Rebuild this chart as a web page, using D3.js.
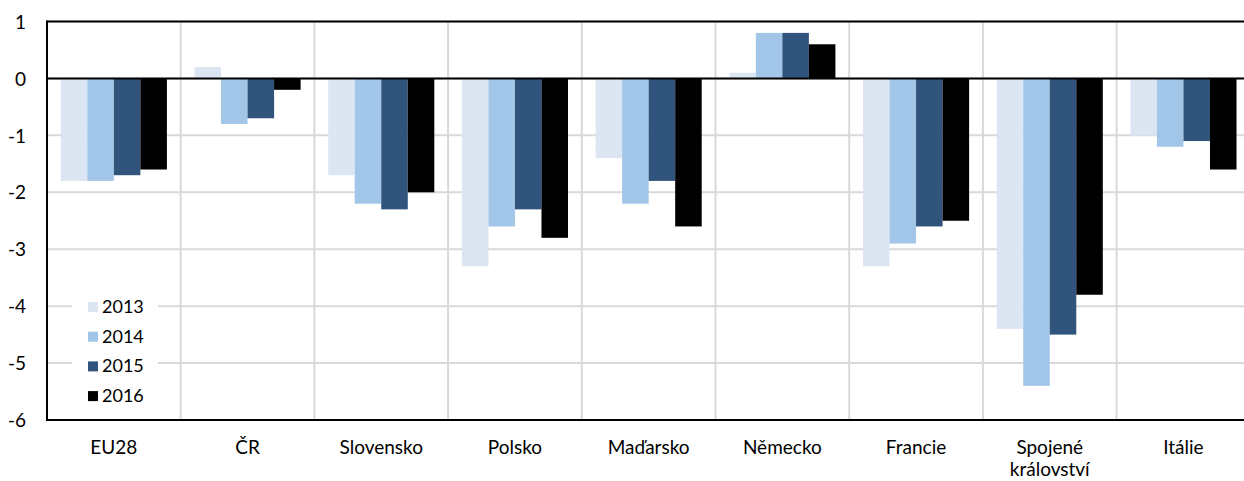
<!DOCTYPE html>
<html>
<head>
<meta charset="utf-8">
<script src="https://cdn.jsdelivr.net/npm/d3@7"></script>
<style>
  html, body { margin: 0; padding: 0; background: #fff; }
  svg { display: block; font-family: Lato, "Open Sans", sans-serif; }
</style>
</head>
<body>
<svg id="chart" width="1244" height="481"></svg>
<script>
// Categories (countries) and yearly series
const categories = ["EU28", "ČR", "Slovensko", "Polsko", "Maďarsko", "Německo", "Francie", "Spojené království", "Itálie"];
const years = ["2013", "2014", "2015", "2016"];
const v2013 = [-1.8,  0.2, -1.7, -3.3, -1.4, 0.1, -3.3, -4.4, -1.0];
const v2014 = [-1.8, -0.8, -2.2, -2.6, -2.2, 0.8, -2.9, -5.4, -1.2];
const v2015 = [-1.7, -0.7, -2.3, -2.3, -1.8, 0.8, -2.6, -4.5, -1.1];
const v2016 = [-1.6, -0.2, -2.0, -2.8, -2.6, 0.6, -2.5, -3.8, -1.6];
const yTicks = [1, 0, -1, -2, -3, -4, -5, -6];
const colors = ["#dce6f2", "#a2c6e7", "#31547c", "#000000"];

const series = [v2013, v2014, v2015, v2016];

const svg = d3.select("#chart");
const plotLeft = 47, plotTop = 21.5, plotBottom = 420;
const step = 133.7;
const plotRight = plotLeft + step * categories.length;

const x = d3.scaleBand().domain(categories).range([plotLeft, plotRight]).padding(0);
const xSub = d3.scaleBand().domain(years).range([0, x.bandwidth()]).paddingInner(0).paddingOuter(0.52);
const y = d3.scaleLinear().domain([-6, 1]).range([plotBottom, plotTop]);

// horizontal gridlines
svg.append("g").selectAll("line").data(yTicks).join("line")
  .attr("x1", plotLeft).attr("x2", plotRight)
  .attr("y1", d => y(d)).attr("y2", d => y(d))
  .attr("stroke", "#d9d9d9").attr("stroke-width", 2);

// vertical gridlines between categories
svg.append("g").selectAll("line").data(categories.slice(1)).join("line")
  .attr("x1", d => x(d)).attr("x2", d => x(d))
  .attr("y1", plotTop).attr("y2", plotBottom)
  .attr("stroke", "#d9d9d9").attr("stroke-width", 2);

// bars
const groups = svg.append("g").selectAll("g").data(categories).join("g")
  .attr("transform", d => `translate(${x(d)},0)`);
groups.selectAll("rect")
  .data((c, i) => years.map((yr, k) => ({ yr, k, v: series[k][i] })))
  .join("rect")
  .attr("x", d => xSub(d.yr))
  .attr("width", xSub.bandwidth())
  .attr("y", d => y(Math.max(0, d.v)))
  .attr("height", d => Math.abs(y(d.v) - y(0)))
  .attr("fill", d => colors[d.k]);

// frame lines: top, zero, bottom, left axis
[1, 0, -6].forEach(v => {
  svg.append("line")
    .attr("x1", plotLeft).attr("x2", plotRight)
    .attr("y1", y(v)).attr("y2", y(v))
    .attr("stroke", "#000").attr("stroke-width", 2);
});
svg.append("line")
  .attr("x1", plotLeft).attr("x2", plotLeft)
  .attr("y1", y(1) - 1).attr("y2", y(-6) + 1)
  .attr("stroke", "#000").attr("stroke-width", 2);

// y axis labels (plain hyphen as minus sign)
const yAxis = d3.axisLeft(y).tickValues(yTicks).tickSize(0).tickPadding(0).tickFormat(d => String(d));
const ya = svg.append("g").attr("transform", `translate(${plotLeft - 21},0)`).call(yAxis);
ya.select(".domain").remove();
ya.selectAll("text").attr("font-size", 19).attr("fill", "#000")
  .attr("font-family", "Lato, 'Open Sans', sans-serif").attr("dy", "0.35em");

// x category labels (wrapped on space for the long one)
const xl = svg.append("g");
categories.forEach(c => {
  const lines = c === "Spojené království" ? ["Spojené", "království"] : [c];
  const t = xl.append("text")
    .attr("x", x(c) + x.bandwidth() / 2)
    .attr("y", 454)
    .attr("text-anchor", "middle")
    .attr("font-size", 19)
    .attr("fill", "#000");
  lines.forEach((ln, i) => {
    t.append("tspan").attr("x", x(c) + x.bandwidth() / 2).attr("dy", i === 0 ? 0 : 22).text(ln);
  });
});

// legend
const legend = svg.append("g");
legend.append("rect").attr("x", 72).attr("y", 292).attr("width", 86).attr("height", 116).attr("fill", "#fff");
years.forEach((yr, k) => {
  const yy = 302 + k * 29.7;
  legend.append("rect").attr("x", 88).attr("y", yy).attr("width", 10).attr("height", 10).attr("fill", colors[k]);
  legend.append("text").attr("x", 102).attr("y", yy + 11)
    .attr("font-size", 18).attr("fill", "#000").text(yr);
});
</script>
</body>
</html>
